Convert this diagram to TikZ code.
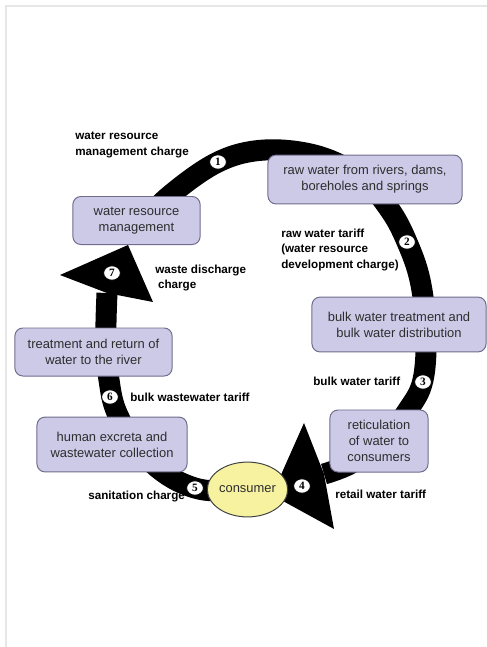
\documentclass[tikz,border=0pt]{standalone}
\usepackage{fontspec}
\setmainfont{Liberation Sans}
\newfontfamily\numfont{Liberation Serif}
\usetikzlibrary{positioning, shapes.geometric}

\definecolor{boxfill}{RGB}{205,202,232}
\definecolor{boxline}{RGB}{112,108,140}
\definecolor{consfill}{RGB}{246,242,160}
\definecolor{framegray}{RGB}{230,230,230}
\definecolor{txtgray}{RGB}{45,45,45}

\begin{document}
\begin{tikzpicture}[
  x=0.025cm, y=-0.025cm,
  stage/.style={draw=boxline, fill=boxfill, rounded corners=0.2cm, line width=0.7pt,
    align=center, inner sep=1pt, text=txtgray, font=\fontsize{9.2}{11.4}\selectfont},
  cons/.style={ellipse, draw=black!75, fill=consfill, line width=0.7pt,
    minimum width=1.62cm, minimum height=1.37cm, inner sep=0pt,
    font=\fontsize{9.2}{11}\selectfont, text=txtgray},
  tag/.style={anchor=west, align=left, inner sep=0pt,
    font=\bfseries\fontsize{8.3}{11}\selectfont},
  num/.style={ellipse, draw, fill=white, line width=0.6pt, minimum width=0.42cm,
    minimum height=0.36cm, inner sep=0pt, font=\numfont\bfseries\fontsize{8}{8}\selectfont},
  band/.style={line width=0.525cm},
]
  \useasboundingbox (0,0) rectangle (487,647);
  \draw[framegray, line width=1.6pt] (6,647) -- (6,6) -- (487,6);

  % arrow heads of the cycle
  \coordinate (t7) at (128,245);
  \coordinate (b7l) at (60,275);
  \coordinate (b7r) at (153,302);
  \coordinate (k7) at (107,293);
  \coordinate (t4) at (272,495);
  \coordinate (b4u) at (304,423);
  \coordinate (b4d) at (334,529);
  \coordinate (k4) at (324,474);

  % the thick cycle band
  \draw[band] plot[smooth, tension=0.6] coordinates {(135,232) (168,197) (218,162)
    (265,150) (318,156) (362,178) (390,210) (407,242) (420,280) (426,330) (423,380)
    (408,410) (382,442) (350,464) (k4)};
  \draw[band] plot[smooth, tension=0.6] coordinates {(240,491) (215,491) (195,488)
    (172,478) (150,461) (130,437) (115,408) (109,380) (106,350) (106,322) (k7)};
  \fill (t7) -- (b7l) -- (k7) -- (b7r) -- cycle;
  \fill (t4) -- (b4u) -- (k4) -- (b4d) -- cycle;

  % stages
  \node[stage, minimum width=3.18cm, minimum height=1.2cm] (wrm) at (136.5,220.5)
    {water resource\\management};
  \node[stage, minimum width=4.85cm, minimum height=1.22cm] (raw) at (365,179.5)
    {raw water from rivers, dams,\\boreholes and springs};
  \node[stage, minimum width=4.35cm, minimum height=1.37cm] (bulk) at (399,324.5)
    {bulk water treatment and\\bulk water distribution};
  \node[stage, minimum width=2.45cm, minimum height=1.55cm] (ret) at (379,441)
    {reticulation\\of water to\\consumers};
  \node[stage, minimum width=3.75cm, minimum height=1.37cm] (hum) at (112,444.5)
    {human excreta and\\wastewater collection};
  \node[stage, minimum width=3.93cm, minimum height=1.2cm] (trt) at (93.5,352)
    {treatment and return of\\water to the river};
  \node[cons] (con) at (247.5,489.5) {consumer};

  % numbered charges
  \node[num] (n1) at (218,162) {1};
  \node[num] (n2) at (407,242) {2};
  \node[num] (n3) at (423,382) {3};
  \node[num] (n4) at (302,486) {4};
  \node[num] (n5) at (195,488) {5};
  \node[num] (n6) at (110,397) {6};
  \node[num] (n7) at (112,273) {7};

  \node[tag] (l1) at (75,145) {water resource\\management charge};
  \node[tag] (l2) at (281,250) {raw water tariff\\(water resource\\development charge)};
  \node[tag] (l3) at (313,381) {bulk water tariff};
  \node[tag] (l4) at (335,494) {retail water tariff};
  \node[tag] (l5) at (88,497) {sanitation charge};
  \node[tag] (l6) at (130,397) {bulk wastewater tariff};
  \node[tag] (l7) at (155,278) {waste discharge\\\hspace{2pt}charge};
\end{tikzpicture}
\end{document}
